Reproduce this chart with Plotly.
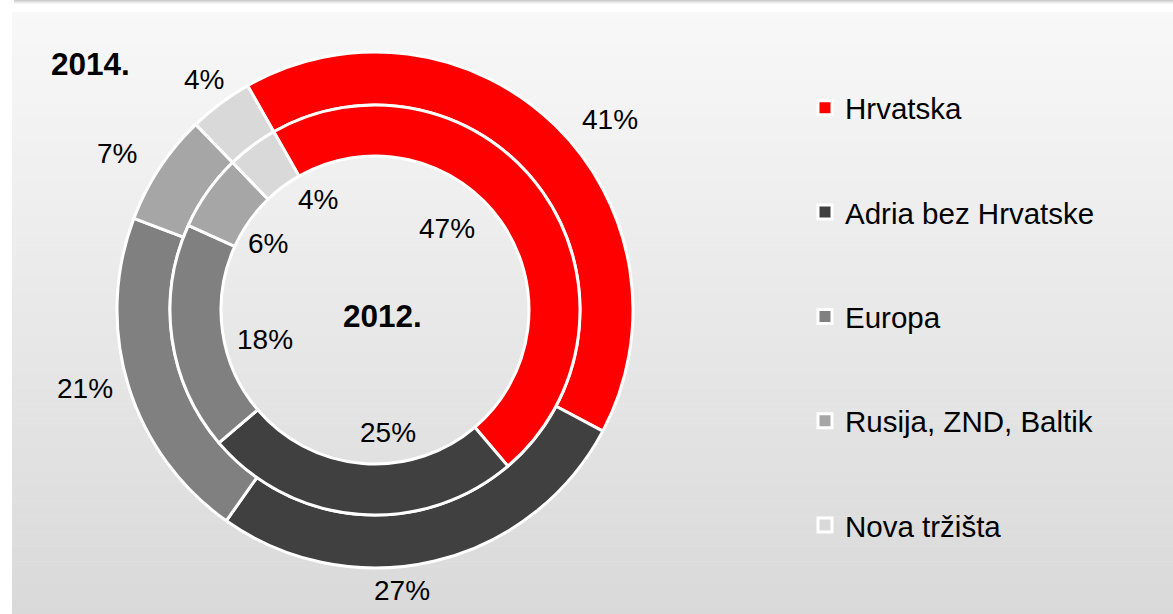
import math
import plotly.graph_objects as go

# ---------------- data ----------------
categories = ["Hrvatska", "Adria bez Hrvatske", "Europa", "Rusija, ZND, Baltik", "Nova tržišta"]
values_2014 = [41, 27, 21, 7, 4]   # outer ring
values_2012 = [47, 25, 18, 6, 4]   # inner ring
ring_titles = ["2014.", "2012."]

# ---------------- style ----------------
colors = ["#ff0000", "#404040", "#808080", "#a6a6a6", "#d9d9d9"]
FONT = "Liberation Sans, Arial, sans-serif"
W, H = 1173, 614
CX, CY = 375, 310            # ring centre (px)
R_OUT, R_MID, R_IN = 258, 205, 154
ROT = 330.4                  # angle of first slice (clockwise from 12 o'clock)

# label placement (radius in px, small angular nudges in degrees)
OUT_R = [303, 282, 301, 302, 287]
OUT_NUDGE = [6.8, 7.9, 1.8, -2.1, 0.2]
IN_R = [109, 123, 114, 126, 124]
IN_NUDGE = [-13.7, -10.5, -7.2, -3.1, 9.4]


def px(x):
    return x / W


def py(y):
    return 1 - y / H


fig = go.Figure()

# outer ring (2014)
fig.add_trace(go.Pie(
    labels=categories, values=values_2014, sort=False, direction="clockwise",
    rotation=ROT, hole=R_MID / R_OUT,
    marker=dict(colors=colors, line=dict(color="white", width=3)),
    textinfo="none", hoverinfo="label+percent", showlegend=False,
    domain=dict(x=[px(CX - R_OUT), px(CX + R_OUT)], y=[py(CY + R_OUT), py(CY - R_OUT)]),
))
# inner ring (2012)
fig.add_trace(go.Pie(
    labels=categories, values=values_2012, sort=False, direction="clockwise",
    rotation=ROT, hole=R_IN / R_MID,
    marker=dict(colors=colors, line=dict(color="white", width=3)),
    textinfo="none", hoverinfo="label+percent", showlegend=False,
    domain=dict(x=[px(CX - R_MID), px(CX + R_MID)], y=[py(CY + R_MID), py(CY - R_MID)]),
))

# legend entries
for cat, col in zip(categories, colors):
    fig.add_trace(go.Scatter(
        x=[None], y=[None], mode="markers", name=cat, legendgroup=cat,
        marker=dict(symbol="square", size=14, color=col, line=dict(color="white", width=3)),
        hoverinfo="skip",
    ))

annotations = []


def ring_labels(values, radii, nudges):
    total = sum(values)
    cum = 0
    for v, r, n in zip(values, radii, nudges):
        ang = math.radians(ROT + 360 * (cum + v / 2) / total + n)
        x = CX + r * math.sin(ang)
        y = CY - r * math.cos(ang)
        annotations.append(dict(
            x=px(x), y=py(y), xref="paper", yref="paper", showarrow=False,
            text=f"{round(100 * v / total)}%", xanchor="center", yanchor="middle",
            font=dict(family=FONT, size=28, color="#000000"),
        ))
        cum += v


ring_labels(values_2014, OUT_R, OUT_NUDGE)
ring_labels(values_2012, IN_R, IN_NUDGE)

annotations.append(dict(x=px(90), y=py(64), xref="paper", yref="paper", showarrow=False,
                        text=f"<b>{ring_titles[0]}</b>", xanchor="center", yanchor="middle",
                        font=dict(family=FONT, size=31.5, color="#000000")))
annotations.append(dict(x=px(382), y=py(316), xref="paper", yref="paper", showarrow=False,
                        text=f"<b>{ring_titles[1]}</b>", xanchor="center", yanchor="middle",
                        font=dict(family=FONT, size=31.5, color="#000000")))

# gradient background panel
shapes = []
N = 80
top_y, bot_y = 12, H
c_top, c_bot = 248, 217
for i in range(N):
    y0 = top_y + (bot_y - top_y) * i / N
    y1 = top_y + (bot_y - top_y) * (i + 1) / N + 0.5
    c = round(c_top + (c_bot - c_top) * (i + 0.5) / N)
    shapes.append(dict(type="rect", xref="paper", yref="paper", x0=px(12), x1=1,
                       y0=py(y1), y1=py(y0), fillcolor=f"rgb({c},{c},{c})",
                       line=dict(width=0), layer="below"))
# faint shadow at the very top
for i, c in enumerate([205, 220, 234, 246]):
    shapes.append(dict(type="rect", xref="paper", yref="paper", x0=px(14), x1=1,
                       y0=py(i + 1), y1=py(i), fillcolor=f"rgb({c},{c},{c})",
                       line=dict(width=0), layer="below"))

fig.update_layout(
    width=W, height=H,
    margin=dict(l=0, r=0, t=0, b=0),
    paper_bgcolor="white", plot_bgcolor="rgba(0,0,0,0)",
    xaxis=dict(visible=False), yaxis=dict(visible=False),
    showlegend=True,
    legend=dict(x=px(805), y=py(82), xanchor="left", yanchor="top",
                traceorder="grouped", tracegroupgap=63,
                font=dict(family=FONT, size=29.5, color="#000000"),
                bgcolor="rgba(0,0,0,0)", borderwidth=0),
    annotations=annotations, shapes=shapes,
)

fig.write_html("out.html", config={"displayModeBar": False},
               post_script="document.body.style.margin='0px';")
